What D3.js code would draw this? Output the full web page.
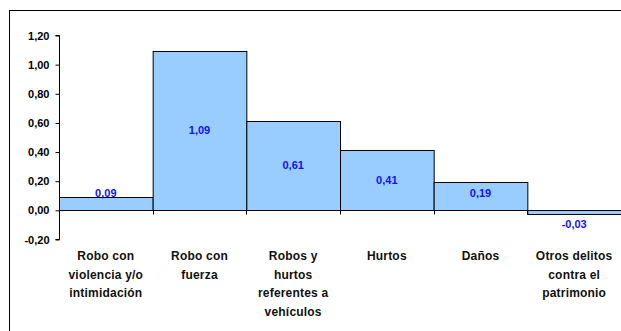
<!DOCTYPE html>
<html><head><meta charset="utf-8">
<script src="https://cdn.jsdelivr.net/npm/d3@7"></script>
<style>body{margin:0;background:#fff}svg{display:block}text{font-family:"Liberation Sans",Arial,sans-serif;font-weight:bold}</style>
</head><body><svg id="c" width="621" height="331"></svg>
<script>
const categories = [
  ["Robo con","violencia y/o","intimidación"],
  ["Robo con","fuerza"],
  ["Robos y","hurtos","referentes a","vehículos"],
  ["Hurtos"],
  ["Daños"],
  ["Otros delitos","contra el","patrimonio"]
];
const values = [0.09, 1.09, 0.61, 0.41, 0.19, -0.03];
const yTicks = [-0.2, 0, 0.2, 0.4, 0.6, 0.8, 1.0, 1.2];

const svg = d3.select("#c");
svg.append("rect").attr("x",9.5).attr("y",10.5).attr("width",640).attr("height",340)
  .attr("fill","none").attr("stroke","#000").attr("stroke-width",1);

const x = d3.scaleBand().domain(d3.range(values.length)).range([59, 621]).padding(0);
const y = d3.scaleLinear().domain([-0.2, 1.2]).range([239, 35]);
const fmt = d => d3.format(".2f")(d).replace(".", ",").replace("\u2212", "-");

// bars
svg.selectAll("rect.bar").data(values).enter().append("rect")
  .attr("x", (d,i)=>x(i)+0.5).attr("width", x.bandwidth())
  .attr("y", d=>Math.round(y(Math.max(0,d)))+0.5)
  .attr("height", d=>Math.abs(Math.round(y(d))-Math.round(y(0))))
  .attr("fill","#99CCFF").attr("stroke","#000").attr("stroke-width",1);

// y axis
const yAxis = d3.axisLeft(y).tickValues(yTicks).tickFormat(fmt).tickSize(4).tickPadding(6);
const ga = svg.append("g").attr("transform","translate(59.5,0.5)").call(yAxis);
ga.selectAll("path,line").attr("stroke","#000");
ga.select("path").attr("d", `M-4,${Math.round(y(1.2))}H0V${Math.round(y(-0.2))}H-4`);
ga.selectAll("text").attr("font-size",11).attr("fill","#000")
  .style("font-family","'Liberation Sans',Arial,sans-serif").style("font-weight","bold");

// zero line with ticks at category boundaries
const z = Math.round(y(0))+0.5;
svg.append("line").attr("x1",59).attr("x2",621).attr("y1",z).attr("y2",z).attr("stroke","#000");
d3.range(1, values.length).forEach(i=>{
  svg.append("line").attr("x1",Math.round(x(i))+0.5).attr("x2",Math.round(x(i))+0.5)
    .attr("y1",z).attr("y2",z+4).attr("stroke","#000");
});

// data labels
svg.selectAll("text.dl").data(values).enter().append("text")
  .attr("x",(d,i)=>x(i)+x.bandwidth()/2)
  .attr("y", d=> d<0 ? y(0)+14 : Math.min((y(d)+y(0))/2, y(0)-17))
  .attr("dy","0.35em").attr("text-anchor","middle").attr("font-size",11)
  .attr("fill","#1010FF").text(fmt);

// category labels
categories.forEach((lines,i)=>{
  const t = svg.append("text").attr("text-anchor","middle").attr("font-size",12)
    .attr("fill","#111").style("letter-spacing","0.2px");
  lines.forEach((l,j)=>{
    t.append("tspan").attr("x", x(i)+x.bandwidth()/2).attr("y", 260 + j*18.5).text(l);
  });
});
</script></body></html>
